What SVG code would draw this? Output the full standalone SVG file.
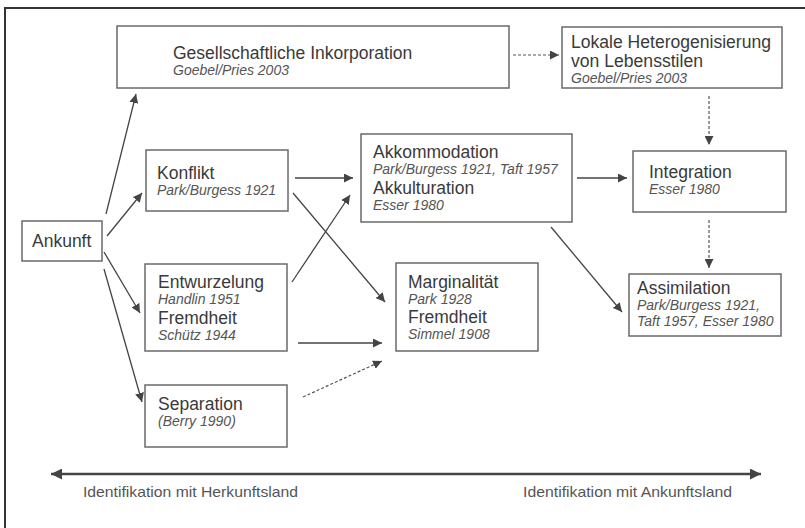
<svg xmlns="http://www.w3.org/2000/svg" width="805" height="528" viewBox="0 0 805 528">
<defs>
<marker id="ah" viewBox="0 0 10 10" refX="10" refY="5" markerWidth="9" markerHeight="9" markerUnits="userSpaceOnUse" orient="auto">
<path d="M0,0 L10,5 L0,10 z" fill="#444"/>
</marker>
<marker id="ah2" viewBox="0 0 10 10" refX="10" refY="5" markerWidth="11" markerHeight="11" markerUnits="userSpaceOnUse" orient="auto-start-reverse">
<path d="M0,0 L10,5 L0,10 z" fill="#444"/>
</marker>
</defs>
<style>
.box{fill:#fff;stroke:#6a6a6a;stroke-width:1.5}
.t{font-family:"Liberation Sans",Arial,sans-serif;font-size:17.5px;fill:#3a3a3a}
.i{font-family:"Liberation Sans",Arial,sans-serif;font-size:14px;font-style:italic;fill:#555}
.b{font-family:"Liberation Sans",Arial,sans-serif;font-size:15px;fill:#555}
.c{stroke:#444;stroke-width:1.3;fill:none;marker-end:url(#ah)}
.d{stroke:#555;stroke-width:1.2;fill:none;stroke-dasharray:3,2;marker-end:url(#ah)}
</style>
<rect x="0" y="0" width="805" height="528" fill="#fff"/>
<rect x="5" y="8" width="820" height="540" fill="none" stroke="#333" stroke-width="2"/>

<g id="gesellschaftliche">
<rect class="box" x="117" y="26" width="392" height="62"/>
<text class="t" x="173" y="59">Gesellschaftliche Inkorporation</text>
<text class="i" x="173" y="75">Goebel/Pries 2003</text>
</g>
<g id="lokale">
<rect class="box" x="562" y="27" width="220" height="61"/>
<text class="t" x="571" y="48" textLength="200" lengthAdjust="spacingAndGlyphs">Lokale Heterogenisierung</text>
<text class="t" x="571" y="67" textLength="132" lengthAdjust="spacingAndGlyphs">von Lebensstilen</text>
<text class="i" x="571" y="83">Goebel/Pries 2003</text>
</g>
<g id="ankunft">
<rect class="box" x="22" y="221" width="80" height="40"/>
<text class="t" x="32" y="247">Ankunft</text>
</g>
<g id="konflikt">
<rect class="box" x="146" y="150" width="142" height="61"/>
<text class="t" x="157" y="179">Konflikt</text>
<text class="i" x="157" y="195">Park/Burgess 1921</text>
</g>
<g id="akkommodation">
<rect class="box" x="361" y="134" width="211" height="88"/>
<text class="t" x="373" y="158">Akkommodation</text>
<text class="i" x="373" y="174">Park/Burgess 1921, Taft 1957</text>
<text class="t" x="373" y="194">Akkulturation</text>
<text class="i" x="373" y="210">Esser 1980</text>
</g>
<g id="integration">
<rect class="box" x="633" y="151" width="153" height="61"/>
<text class="t" x="649" y="178">Integration</text>
<text class="i" x="649" y="194">Esser 1980</text>
</g>
<g id="entwurzelung">
<rect class="box" x="145" y="264" width="142" height="87"/>
<text class="t" x="158" y="288">Entwurzelung</text>
<text class="i" x="158" y="304">Handlin 1951</text>
<text class="t" x="158" y="324">Fremdheit</text>
<text class="i" x="158" y="340">Schütz 1944</text>
</g>
<g id="marginalitaet">
<rect class="box" x="396" y="263" width="142" height="88"/>
<text class="t" x="408" y="288">Marginalität</text>
<text class="i" x="408" y="304">Park 1928</text>
<text class="t" x="408" y="323">Fremdheit</text>
<text class="i" x="408" y="339">Simmel 1908</text>
</g>
<g id="assimilation">
<rect class="box" x="629" y="274" width="152" height="62"/>
<text class="t" x="637" y="294">Assimilation</text>
<text class="i" x="637" y="310">Park/Burgess 1921,</text>
<text class="i" x="637" y="326">Taft 1957, Esser 1980</text>
</g>
<g id="separation">
<rect class="box" x="145" y="385" width="142" height="62"/>
<text class="t" x="158" y="410">Separation</text>
<text class="i" x="158" y="426">(Berry 1990)</text>
</g>

<g id="connectors">
<line class="c" x1="106" y1="214" x2="136" y2="94"/>
<line class="c" x1="107" y1="236" x2="142" y2="193"/>
<line class="c" x1="104" y1="252" x2="140" y2="313"/>
<line class="c" x1="104" y1="269" x2="142" y2="402"/>
<line class="c" x1="295" y1="178" x2="353" y2="178"/>
<line class="c" x1="293" y1="193" x2="385" y2="302"/>
<line class="c" x1="292" y1="282" x2="350" y2="195"/>
<line class="c" x1="298" y1="343" x2="382" y2="343"/>
<line class="d" x1="303" y1="397" x2="382" y2="361"/>
<line class="c" x1="577" y1="178" x2="627" y2="178"/>
<line class="c" x1="551" y1="227" x2="622" y2="312"/>
<line class="d" x1="513" y1="55" x2="559" y2="55"/>
<line class="d" x1="709" y1="96" x2="709" y2="145"/>
<line class="d" x1="709" y1="220" x2="709" y2="268"/>
<line x1="51" y1="474" x2="761" y2="474" stroke="#444" stroke-width="2.5" marker-start="url(#ah2)" marker-end="url(#ah2)"/>
</g>

<text class="b" x="83" y="497" textLength="215" lengthAdjust="spacingAndGlyphs">Identifikation mit Herkunftsland</text>
<text class="b" x="523" y="497" textLength="209" lengthAdjust="spacingAndGlyphs">Identifikation mit Ankunftsland</text>
</svg>
